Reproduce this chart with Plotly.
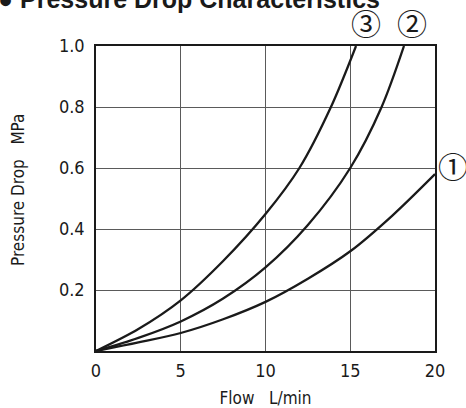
import plotly.graph_objects as go

# Flow (L/min) vs pressure drop (MPa) for three models
flow_1 = [0, 2.5, 5, 7.5, 10, 12.5, 15, 17.5, 20]
drop_1 = [0, 0.028, 0.059, 0.104, 0.161, 0.237, 0.327, 0.445, 0.58]

flow_2 = [0, 2.5, 5, 7.5, 10, 12.5, 15, 16.85, 18.17]
drop_2 = [0, 0.043, 0.097, 0.172, 0.274, 0.413, 0.6, 0.8, 1.0]

flow_3 = [0, 2.5, 5, 7.5, 10, 12.0, 13.86, 15.34]
drop_3 = [0, 0.072, 0.166, 0.295, 0.449, 0.6, 0.8, 1.0]

series_labels = ["①", "②", "③"]
label_x = [21.09, 18.67, 15.9]   # in flow units (L/min)
label_y = [0.61, 1.079, 1.079]   # in pressure units (MPa)

x_range = [0, 20]
y_range = [0, 1.0]
x_ticks = [0, 5, 10, 15, 20]
y_ticks = [0.2, 0.4, 0.6, 0.8, 1.0]

title_text = "● Pressure Drop Characteristics"
x_title = "Flow   L/min"
y_title = "Pressure Drop   MPa"

cond_font = "DejaVu Sans Condensed, Liberation Sans Narrow, sans-serif"
ink = "#1a1a1a"

fig = go.Figure()
for fx, fy in [(flow_1, drop_1), (flow_2, drop_2), (flow_3, drop_3)]:
    fig.add_trace(go.Scatter(
        x=fx, y=fy, mode="lines",
        line=dict(color=ink, width=2.3, shape="spline", smoothing=0.9),
        showlegend=False, hoverinfo="skip",
    ))

for lab, lx, ly in zip(series_labels, label_x, label_y):
    fig.add_annotation(
        x=(lx - x_range[0]) / (x_range[1] - x_range[0]),
        y=(ly - y_range[0]) / (y_range[1] - y_range[0]),
        xref="paper", yref="paper", xanchor="center", yanchor="middle",
        text=lab, showarrow=False,
        font=dict(family="Noto Sans CJK JP, DejaVu Sans", size=30, color=ink))

fig.add_annotation(x=0, y=1, xref="paper", yref="paper", xanchor="left", yanchor="bottom",
                   xshift=-100, yshift=31, text="<b>" + title_text + "</b>", showarrow=False,
                   font=dict(family="Liberation Sans, Arial, sans-serif", size=25, color=ink))

# y-axis title drawn as a rotated annotation (sits slightly above centre in the reference)
fig.add_annotation(x=-0.23, y=0.528, xref="paper", yref="paper", xanchor="center", yanchor="middle",
                   text=y_title, textangle=-90, showarrow=False,
                   font=dict(family=cond_font, size=17, color=ink))

fig.update_xaxes(
    range=x_range, tickvals=x_ticks, ticktext=[str(v) for v in x_ticks],
    showgrid=True, gridcolor="#5a5a5a", gridwidth=1,
    showline=True, linecolor=ink, linewidth=1.5, mirror=True,
    ticks="", zeroline=False, ticklabelstandoff=3, automargin=False,
    tickfont=dict(family=cond_font, size=18, color=ink),
    title=dict(text=x_title, font=dict(family=cond_font, size=17, color=ink), standoff=14),
)
fig.update_yaxes(
    range=y_range, tickvals=y_ticks, ticktext=[f"{v:.1f}" for v in y_ticks],
    showgrid=True, gridcolor="#5a5a5a", gridwidth=1,
    showline=True, linecolor=ink, linewidth=1.5, mirror=True,
    ticks="", zeroline=False, ticklabelstandoff=6, automargin=False,
    tickfont=dict(family=cond_font, size=18, color=ink),
)

fig.update_layout(
    width=466, height=408,
    margin=dict(l=96, r=31, t=46, b=57),
    plot_bgcolor="white", paper_bgcolor="white",
)

fig.write_html("out.html", config={"displayModeBar": False},
               post_script="document.body.style.margin='0';document.body.style.overflow='hidden';")
